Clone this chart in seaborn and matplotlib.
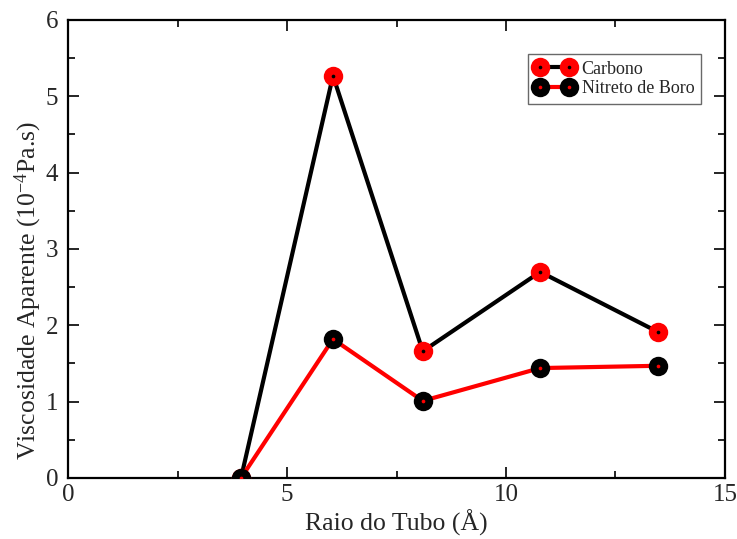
import matplotlib
matplotlib.use("Agg")
import matplotlib.pyplot as plt
from matplotlib.lines import Line2D
from matplotlib.legend_handler import HandlerTuple
from matplotlib.ticker import MultipleLocator
import seaborn as sns
import pandas as pd

# Tube radius (Å) and apparent viscosity (10^-4 Pa.s)
raio = [3.95, 6.05, 8.1, 10.78, 13.48]
carbono = [0.0, 5.27, 1.66, 2.70, 1.91]
nitreto_boro = [0.0, 1.82, 1.01, 1.44, 1.47]

series_names = ["Carbono", "Nitreto de Boro"]
marker_colors = ["#ff0000", "#000000"]
line_colors = ["#000000", "#ff0000"]
dot_colors = ["#000000", "#ff0000"]

sns.set_theme(style="white")
plt.rcParams["font.family"] = ["Liberation Serif", "DejaVu Serif"]
plt.rcParams["mathtext.fontset"] = "custom"
plt.rcParams["mathtext.rm"] = "Liberation Serif"
plt.rcParams["mathtext.it"] = "Liberation Serif:italic"

df = pd.DataFrame({"raio": raio, "Carbono": carbono, "Nitreto de Boro": nitreto_boro})

fig = plt.figure(figsize=(7.37, 5.39), dpi=100)
ax = fig.add_axes([0.0923, 0.1132, 0.8914, 0.8497])

handles = []
for name, mc, lc, dc in zip(series_names, marker_colors, line_colors, dot_colors):
    sns.lineplot(data=df, x="raio", y=name, ax=ax, color=lc, linewidth=3.0,
                 marker="o", markersize=14, markerfacecolor=mc,
                 markeredgecolor=mc, markeredgewidth=0, sort=False, zorder=3)
    sns.scatterplot(data=df, x="raio", y=name, ax=ax, color=dc, s=7,
                    linewidth=0, zorder=4)
    big = Line2D([], [], color=lc, linewidth=3.0, marker="o", markersize=14,
                 markerfacecolor=mc, markeredgecolor=mc, markeredgewidth=0)
    dot = Line2D([], [], linestyle="none", marker="o", markersize=2.6,
                 markerfacecolor=dc, markeredgecolor=dc, markeredgewidth=0)
    handles.append((big, dot))

ax.set_xlim(0, 15)
ax.set_ylim(0, 6)
ax.xaxis.set_major_locator(MultipleLocator(5))
ax.xaxis.set_minor_locator(MultipleLocator(2.5))
ax.yaxis.set_major_locator(MultipleLocator(1))
ax.yaxis.set_minor_locator(MultipleLocator(0.5))
ax.tick_params(which="both", direction="in", top=True, right=True,
               bottom=True, left=True, color="black", width=1.2)
ax.tick_params(which="major", length=8, labelsize=18)
ax.tick_params(which="minor", length=5)
ax.tick_params(axis="y", which="major", pad=7)
ax.tick_params(axis="x", which="major", pad=4)
for s in ax.spines.values():
    s.set_color("black")
    s.set_linewidth(1.6)

ax.set_xlabel("Raio do Tubo (Å)", fontsize=18.5, labelpad=3)
ax.set_ylabel("Viscosidade Aparente (10$^{-4}$Pa.s)", fontsize=18.5)
ax.yaxis.set_label_coords(-0.037, 0.41)

leg = ax.legend(handles, series_names, loc="upper right",
                bbox_to_anchor=(0.963, 0.925),
                handler_map={tuple: HandlerTuple(ndivide=1)},
                numpoints=2, handlelength=2.2, handletextpad=0.4,
                fontsize=13, frameon=True, fancybox=False,
                borderpad=0.35, labelspacing=0.15, borderaxespad=0)
leg.get_frame().set_edgecolor("#444444")
leg.get_frame().set_linewidth(1.0)

fig.savefig("out.png", dpi=100)
